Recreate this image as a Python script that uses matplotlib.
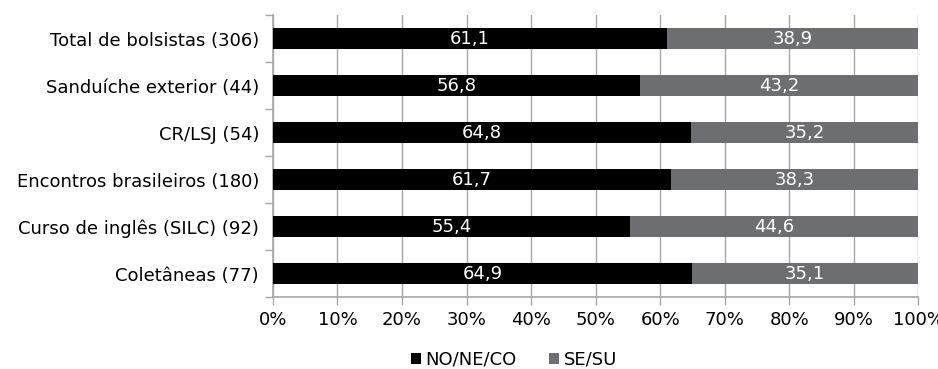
import numpy as np
import matplotlib
matplotlib.use('Agg')
import matplotlib.pyplot as plt
from matplotlib.ticker import FixedLocator, PercentFormatter

plt.rcParams['font.family'] = ['DejaVu Sans']

categorias = ["Total de bolsistas (306)", "Sanduíche exterior (44)", "CR/LSJ (54)",
              "Encontros brasileiros (180)", "Curso de inglês (SILC) (92)", "Coletâneas (77)"]
no_ne_co = [61.1, 56.8, 64.8, 61.7, 55.4, 64.9]
se_su = [38.9, 43.2, 35.2, 38.3, 44.6, 35.1]
series_nomes = ["NO/NE/CO", "SE/SU"]
cores = ["#000000", "#6d6e71"]
grid_cor = "#a6a6a6"
fs = 13

fig = plt.figure(figsize=(9.38, 3.69), dpi=100)
ax = fig.add_axes([0.291, 0.195, 0.688, 0.764])

y = np.arange(len(categorias))
esquerda = np.zeros(len(categorias))
for valores, nome, cor in zip([no_ne_co, se_su], series_nomes, cores):
    valores = np.array(valores)
    ax.barh(y, valores, left=esquerda, height=0.45, color=cor, label=nome, zorder=3)
    for yi, l, v in zip(y, esquerda, valores):
        ax.text(l + v / 2, yi, f"{v:.1f}".replace(".", ","), color="white",
                ha="center", va="center", fontsize=fs, zorder=4)
    esquerda += valores

ax.set_xlim(0, 100)
ax.set_ylim(len(categorias) - 0.5, -0.5)
ax.set_xticks(np.arange(0, 101, 10))
ax.xaxis.set_major_formatter(PercentFormatter(decimals=0))
ax.set_yticks(y)
ax.set_yticklabels(categorias)
ax.yaxis.set_minor_locator(FixedLocator(np.arange(-0.5, len(categorias), 1)))
ax.tick_params(axis="y", which="major", length=0, pad=10, labelsize=fs)
ax.tick_params(axis="y", which="minor", length=6, color=grid_cor, width=1)
ax.tick_params(axis="x", length=6, color=grid_cor, width=1, labelsize=fs, pad=4)
ax.grid(axis="x", color=grid_cor, linewidth=1, zorder=0)

for lado in ["top", "right"]:
    ax.spines[lado].set_visible(False)
for lado in ["left", "bottom"]:
    ax.spines[lado].set_color(grid_cor)
    ax.spines[lado].set_linewidth(1.2)

fig.legend(loc="center", bbox_to_anchor=(0.548, 0.025), ncol=2, frameon=False,
           fontsize=fs, handlelength=0.55, handleheight=0.55, handletextpad=0.25,
           columnspacing=1.8, borderpad=0)

fig.savefig("out.png", dpi=100)
